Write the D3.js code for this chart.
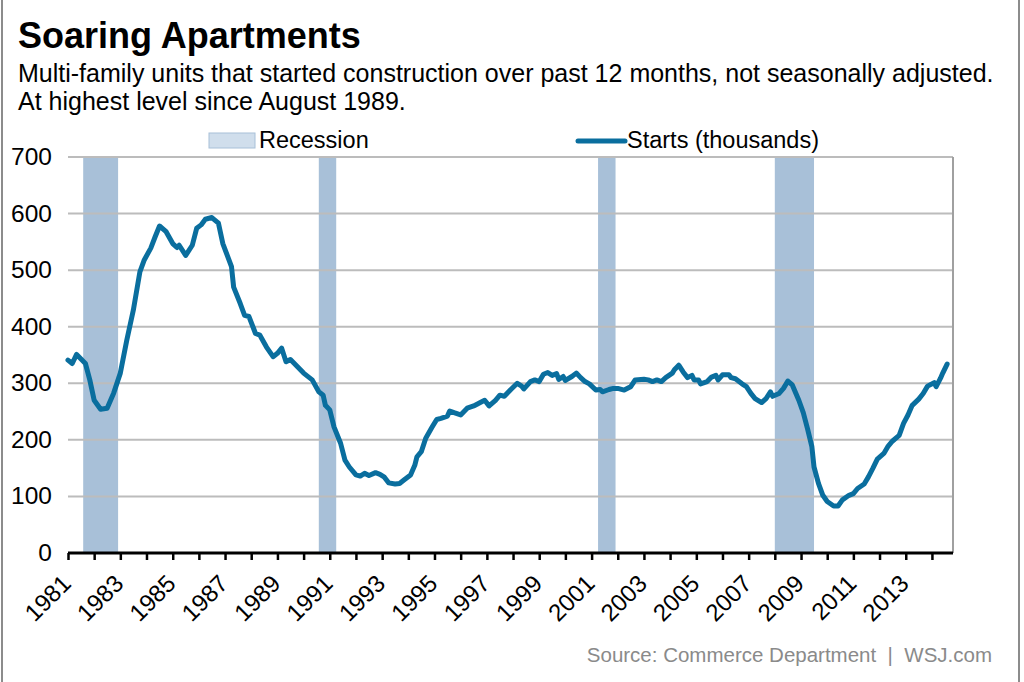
<!DOCTYPE html>
<html>
<head>
<meta charset="utf-8">
<script src="https://cdn.jsdelivr.net/npm/d3@7"></script>
<style>
  body { margin: 0; background: #fff; }
  svg { display: block; font-family: "Liberation Sans", Arial, sans-serif; }
</style>
</head>
<body>
<svg id="chart" width="1024" height="682"></svg>
<script>
// Monthly readings (thousands of units, 12-month total)
const months = [
  "1981-01","1981-03","1981-05","1981-09","1981-11","1982-01","1982-04","1982-07","1982-10",
  "1983-01","1983-04","1983-07","1983-10","1983-12","1984-03","1984-05","1984-07","1984-10",
  "1985-01","1985-03","1985-04","1985-07","1985-10","1985-12","1986-02","1986-04","1986-07",
  "1986-10","1986-12","1987-02","1987-04","1987-05","1987-08","1987-10","1987-12","1988-03",
  "1988-05","1988-08","1988-11","1989-01","1989-03","1989-05","1989-07","1989-10","1990-01",
  "1990-05","1990-08","1990-10","1990-11","1991-01","1991-03","1991-06","1991-08","1991-10",
  "1992-01","1992-03","1992-05","1992-07","1992-10","1992-12","1993-02","1993-04","1993-07",
  "1993-09","1993-11","1994-02","1994-04","1994-05","1994-07","1994-09","1994-12","1995-02",
  "1995-04","1995-07","1995-08","1995-10","1996-01","1996-04","1996-07","1996-10","1996-12",
  "1997-02","1997-05","1997-07","1997-09","1997-12","1998-03","1998-05","1998-06","1998-09",
  "1998-11","1999-01","1999-03","1999-05","1999-07","1999-09","1999-10","1999-12","2000-01",
  "2000-04","2000-06","2000-08","2000-10","2000-12","2001-03","2001-05","2001-06","2001-09",
  "2001-11","2002-01","2002-04","2002-06","2002-07","2002-09","2003-01","2003-03","2003-05",
  "2003-07","2003-09","2003-11","2004-02","2004-03","2004-05","2004-07","2004-09","2004-11",
  "2004-12","2005-02","2005-03","2005-06","2005-08","2005-10","2005-11","2006-01","2006-04",
  "2006-05","2006-07","2006-10","2006-12","2007-02","2007-04","2007-07","2007-09","2007-11",
  "2007-12","2008-03","2008-05","2008-07","2008-09","2008-12","2009-02","2009-04","2009-06",
  "2009-07","2009-09","2009-11","2010-01","2010-04","2010-06","2010-08","2010-11","2011-01",
  "2011-03","2011-06","2011-08","2011-10","2011-12","2012-03","2012-05","2012-07","2012-10",
  "2012-12","2013-02","2013-04","2013-07","2013-09","2013-11","2014-02","2014-03","2014-05",
  "2014-06","2014-08"
];
const starts = [
  341,335,351,335,306,270,254,256,283,
  318,376,429,497,518,539,559,578,568,
  547,540,544,526,544,574,580,590,593,
  583,547,526,506,470,441,420,418,388,
  385,364,347,353,362,338,342,330,318,
  306,285,279,261,253,223,194,164,152,
  138,136,141,137,142,139,134,124,122,
  123,129,138,155,170,179,203,223,236,
  238,242,251,248,244,256,260,266,270,
  260,270,279,277,289,300,295,290,303,
  306,303,316,319,314,317,307,312,305,
  312,318,310,303,299,288,289,285,289,
  291,291,288,292,294,306,307,306,303,
  306,303,310,318,324,332,320,310,314,
  306,306,299,303,311,314,306,315,315,
  310,308,299,294,282,273,266,273,285,
  277,282,291,304,297,270,248,220,188,
  152,123,102,91,83,83,94,102,105,
  114,122,135,150,166,176,189,198,208,
  229,244,261,272,282,295,301,294,309,
  318,334
];

// Recession shading (first and last shaded month)
const recessionStart = ["1981-08", "1990-08", "2001-04", "2008-01"];
const recessionEnd   = ["1982-12", "1991-04", "2001-12", "2009-07"];

const yTicks = [0, 100, 200, 300, 400, 500, 600, 700];

const parse = d3.timeParse("%Y-%m");
const data = months.map((m, i) => ({ date: parse(m), value: starts[i] }));
const recessions = recessionStart.map((s, i) => ({ start: parse(s), end: parse(recessionEnd[i]) }));

const svg = d3.select("#chart");
const margin = { left: 68, right: 71, top: 157, bottom: 129 };
const width = 1024 - margin.left - margin.right;
const height = 682 - margin.top - margin.bottom;

const x = d3.scaleTime()
  .domain([parse("1981-01"), new Date(2014, 9, 22)])
  .range([0, width]);
const y = d3.scaleLinear().domain([0, 700]).range([height, 0]);

const lineColor = "#0a6e9e";
const bandColor = "#a8c0d8";

// frame lines
svg.append("line").attr("x1", 2).attr("x2", 2).attr("y1", 0).attr("y2", 682)
  .attr("stroke", "#8c8c8c").attr("stroke-width", 2);
svg.append("line").attr("x1", 1019).attr("x2", 1019).attr("y1", 0).attr("y2", 682)
  .attr("stroke", "#8c8c8c").attr("stroke-width", 2);

// titles
svg.append("text").attr("x", 18).attr("y", 48)
  .attr("font-size", 36).attr("font-weight", "bold").attr("fill", "#000")
  .text("Soaring Apartments");
svg.append("text").attr("x", 18).attr("y", 82)
  .attr("font-size", 25).attr("fill", "#000")
  .text("Multi-family units that started construction over past 12 months, not seasonally adjusted.");
svg.append("text").attr("x", 18).attr("y", 110)
  .attr("font-size", 25).attr("fill", "#000")
  .text("At highest level since August 1989.");

// legend
const legend = svg.append("g");
legend.append("rect").attr("x", 209).attr("y", 133).attr("width", 46).attr("height", 15)
  .attr("fill", "#d0deec").attr("stroke", "#a8c0d8");
legend.append("text").attr("x", 259).attr("y", 148).attr("font-size", 23.5).text("Recession");
legend.append("line").attr("x1", 578).attr("x2", 625).attr("y1", 141).attr("y2", 141)
  .attr("stroke", lineColor).attr("stroke-width", 5).attr("stroke-linecap", "round");
legend.append("text").attr("x", 627).attr("y", 148).attr("font-size", 23.5).text("Starts (thousands)");

const g = svg.append("g").attr("transform", `translate(${margin.left},${margin.top})`);

// recession bands
g.selectAll("rect.recession")
  .data(recessions)
  .join("rect")
  .attr("class", "recession")
  .attr("x", d => x(d.start))
  .attr("width", d => x(d.end) - x(d.start))
  .attr("y", 0)
  .attr("height", height)
  .attr("fill", bandColor);

// gridlines
g.selectAll("line.grid")
  .data(yTicks.filter(v => v > 0))
  .join("line")
  .attr("class", "grid")
  .attr("x1", 0).attr("x2", width)
  .attr("y1", d => y(d)).attr("y2", d => y(d))
  .attr("stroke", "#bcbcbc").attr("stroke-width", 2);

// right border of plot
g.append("line").attr("x1", width).attr("x2", width).attr("y1", 0).attr("y2", height)
  .attr("stroke", "#a0a0a0").attr("stroke-width", 2);

// y axis labels
g.selectAll("text.ylab")
  .data(yTicks)
  .join("text")
  .attr("class", "ylab")
  .attr("x", -16)
  .attr("y", d => y(d) + 8)
  .attr("text-anchor", "end")
  .attr("font-size", 24.5)
  .text(d => d);

// the series
const line = d3.line()
  .x(d => x(d.date))
  .y(d => y(d.value));

g.append("path")
  .datum(data)
  .attr("fill", "none")
  .attr("stroke", lineColor)
  .attr("stroke-width", 5)
  .attr("stroke-linejoin", "round")
  .attr("stroke-linecap", "round")
  .attr("d", line);

// x axis
const xAxis = d3.axisBottom(x)
  .ticks(d3.timeYear.every(1))
  .tickSize(7)
  .tickFormat(d => (d.getFullYear() % 2 === 1 ? d.getFullYear() : ""));

const ax = g.append("g")
  .attr("transform", `translate(0,${height})`)
  .call(xAxis);
ax.select(".domain").attr("stroke", "#000").attr("stroke-width", 3)
  .attr("d", `M0,0H${width}`);
ax.selectAll(".tick line").attr("stroke", "#000").attr("stroke-width", 2.5);
ax.selectAll(".tick text")
  .attr("font-size", 24)
  .attr("font-family", "Liberation Sans, Arial, sans-serif")
  .attr("fill", "#000")
  .attr("text-anchor", "end")
  .attr("dy", null)
  .attr("y", 0)
  .attr("transform", "translate(4,32) rotate(-45)");

// source
svg.append("text").attr("x", 992).attr("y", 662)
  .attr("text-anchor", "end").attr("font-size", 20.5).attr("fill", "#8a8a8a")
  .style("white-space", "pre")
  .text("Source: Commerce Department  |  WSJ.com");
</script>
</body>
</html>
